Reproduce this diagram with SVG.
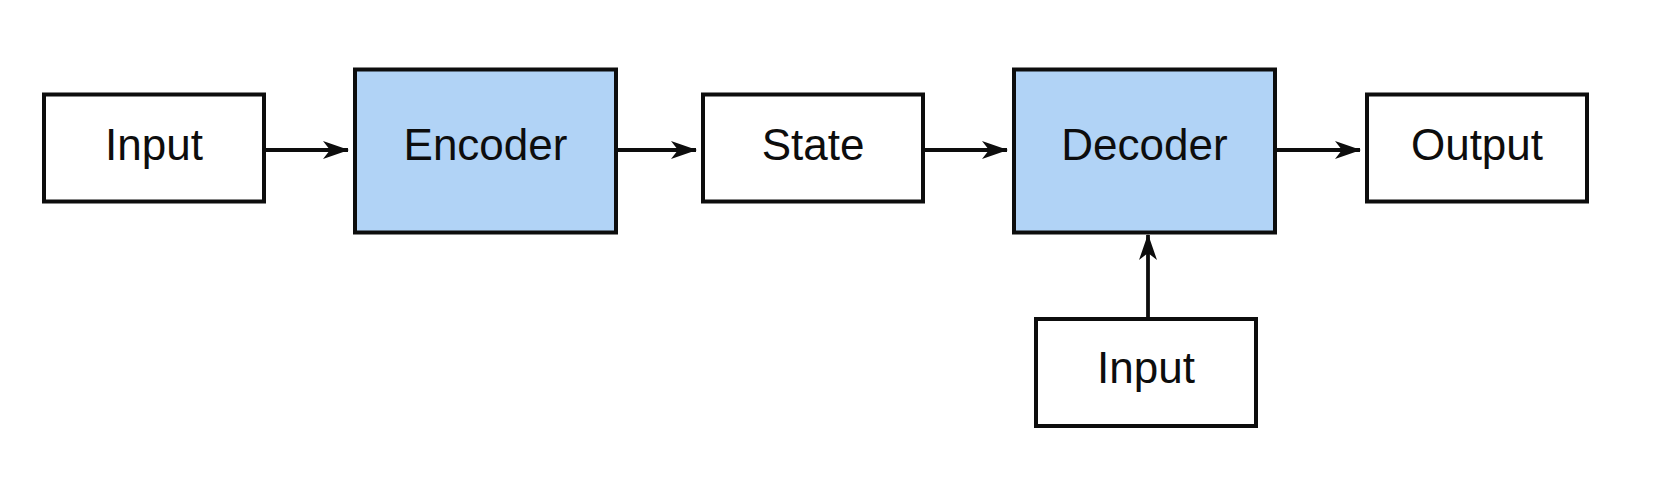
<svg xmlns="http://www.w3.org/2000/svg" width="1662" height="486" viewBox="0 0 1662 486">
  <style>
    .box { fill: #ffffff; stroke: #0d0d0d; stroke-width: 4; }
    .blue { fill: #b1d3f6; stroke: #0d0d0d; stroke-width: 4; }
    .lbl { font-family: "Liberation Sans", Arial, sans-serif; font-size: 44px; fill: #0d0d0d; text-anchor: middle; }
    .edge { stroke: #0d0d0d; stroke-width: 3.8; fill: none; marker-end: url(#arrow); }
  </style>
  <defs>
    <marker id="arrow" markerUnits="userSpaceOnUse" viewBox="0 0 26 20" refX="25" refY="10" markerWidth="26" markerHeight="20" orient="auto">
      <path d="M0,1 L26,10 L0,19 L7,10 Z" fill="#0d0d0d"/>
    </marker>
  </defs>
  <rect width="1662" height="486" fill="#ffffff"/>
  <g id="connectors">
    <line class="edge" x1="265" y1="150" x2="348" y2="150"/>
    <line class="edge" x1="617" y1="150" x2="696" y2="150"/>
    <line class="edge" x1="923" y1="150" x2="1007" y2="150"/>
    <line class="edge" x1="1275" y1="150" x2="1360" y2="150"/>
    <line class="edge" x1="1148" y1="319" x2="1148" y2="235"/>
  </g>
  <g id="input">
    <rect class="box" x="44" y="94.5" width="220" height="107"/>
    <text class="lbl" x="154" y="160">Input</text>
  </g>
  <g id="encoder">
    <rect class="blue" x="355" y="69.5" width="261" height="163"/>
    <text class="lbl" x="485.5" y="160">Encoder</text>
  </g>
  <g id="state">
    <rect class="box" x="703" y="94.5" width="220" height="107"/>
    <text class="lbl" x="813" y="160">State</text>
  </g>
  <g id="decoder">
    <rect class="blue" x="1014" y="69.5" width="261" height="163"/>
    <text class="lbl" x="1144.5" y="160">Decoder</text>
  </g>
  <g id="output">
    <rect class="box" x="1367" y="94.5" width="220" height="107"/>
    <text class="lbl" x="1477" y="160">Output</text>
  </g>
  <g id="decoder-input">
    <rect class="box" x="1036" y="319" width="220" height="107"/>
    <text class="lbl" x="1146" y="383">Input</text>
  </g>
</svg>
